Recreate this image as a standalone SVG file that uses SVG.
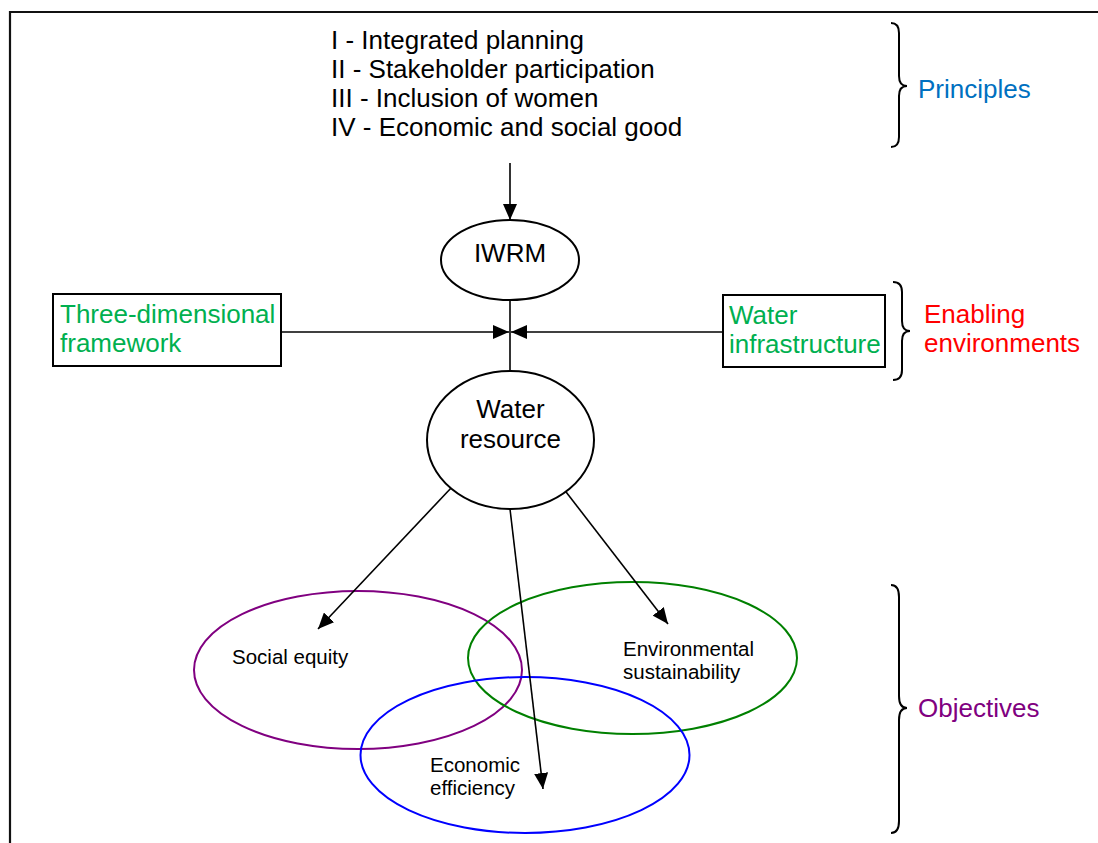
<svg xmlns="http://www.w3.org/2000/svg" width="1098" height="843" viewBox="0 0 1098 843">
  <style>
    text { font-family: "Liberation Sans", Arial, sans-serif; }
    .big { font-size: 26px; fill: #000; }
    .small { font-size: 20.5px; fill: #000; }
    .green { font-size: 26px; fill: #00B050; }
    .node { fill: #fff; stroke: #000; stroke-width: 2; }
    .conn { fill: none; stroke: #000; stroke-width: 1.6; }
    .brace { fill: none; stroke: #000; stroke-width: 2; }
  </style>
  <defs>
    <marker id="arrow" markerUnits="userSpaceOnUse" markerWidth="17" markerHeight="14" refX="16" refY="7" orient="auto">
      <path d="M0,0 L16,7 L0,14 z" fill="#000"/>
    </marker>
  </defs>

  <rect width="1098" height="843" fill="#fff"/>

  <!-- outer frame (top and left edges) -->
  <path d="M10,843 V12 H1098" fill="none" stroke="#111" stroke-width="2.2"/>

  <!-- principles list -->
  <g id="principles-list" class="big">
    <text x="331" y="49" class="big">I - Integrated planning</text>
    <text x="331" y="78" class="big">II - Stakeholder participation</text>
    <text x="331" y="107" class="big">III - Inclusion of women</text>
    <text x="331" y="136" class="big">IV - Economic and social good</text>
  </g>

  <!-- objective circles -->
  <g id="social-equity">
    <ellipse cx="358" cy="670" rx="164" ry="79" fill="none" stroke="#800080" stroke-width="2"/>
    <text x="232" y="664" class="small">Social equity</text>
  </g>
  <g id="environmental-sustainability">
    <ellipse cx="632.5" cy="658" rx="164.5" ry="76" fill="none" stroke="#008000" stroke-width="2"/>
    <text x="623" y="656" class="small">Environmental</text>
    <text x="623" y="679" class="small">sustainability</text>
  </g>
  <g id="economic-efficiency">
    <ellipse cx="525" cy="755" rx="164.5" ry="78" fill="none" stroke="#0000FF" stroke-width="2"/>
    <text x="430" y="772" class="small">Economic</text>
    <text x="430" y="795" class="small">efficiency</text>
  </g>

  <!-- connectors -->
  <g id="connectors">
    <line class="conn" x1="510" y1="163" x2="510" y2="220" marker-end="url(#arrow)"/>
    <line class="conn" x1="510" y1="300" x2="510" y2="371"/>
    <line class="conn" x1="281" y1="332" x2="509" y2="332" marker-end="url(#arrow)"/>
    <line class="conn" x1="723" y1="332" x2="511" y2="332" marker-end="url(#arrow)"/>
    <line class="conn" x1="452" y1="487" x2="318" y2="629" marker-end="url(#arrow)"/>
    <line class="conn" x1="510" y1="509" x2="543" y2="789" marker-end="url(#arrow)"/>
    <line class="conn" x1="563" y1="488" x2="668" y2="624" marker-end="url(#arrow)"/>
  </g>

  <g id="iwrm">
    <ellipse class="node" cx="510" cy="260" rx="69" ry="40"/>
    <text x="510" y="262" class="big" text-anchor="middle">IWRM</text>
  </g>

  <g id="water-resource">
    <ellipse class="node" cx="510.5" cy="440" rx="83.5" ry="69"/>
    <text x="510.5" y="418" class="big" text-anchor="middle">Water</text>
    <text x="510.5" y="448" class="big" text-anchor="middle">resource</text>
  </g>

  <g id="three-dimensional-framework">
    <rect class="node" x="53" y="294" width="228" height="72"/>
    <text x="60" y="323" class="green">Three-dimensional</text>
    <text x="60" y="352" class="green">framework</text>
  </g>

  <g id="water-infrastructure">
    <rect class="node" x="723" y="295" width="162" height="72"/>
    <text x="729" y="324" class="green">Water</text>
    <text x="729" y="353" class="green">infrastructure</text>
  </g>

  <!-- category braces and labels -->
  <g id="principles">
    <path class="brace" d="M891,23 Q899,23 899,33 L899,76 Q899,86 907,86 Q899,86 899,96 L899,137 Q899,147 891,147"/>
    <text x="918" y="98" style="font-size:26px;fill:#0070C0">Principles</text>
  </g>
  <g id="enabling-environments">
    <path class="brace" d="M893,282 Q902,282 902,292 L902,321 Q902,331 910,331 Q902,331 902,341 L902,370 Q902,380 893,380"/>
    <text x="924" y="323" style="font-size:26px;fill:#FF0000">Enabling</text>
    <text x="924" y="352" style="font-size:26px;fill:#FF0000">environments</text>
  </g>
  <g id="objectives">
    <path class="brace" d="M891,585 Q899,585 899,597 L899,696 Q899,708 907,708 Q899,708 899,720 L899,821 Q899,833 891,833"/>
    <text x="918" y="717" style="font-size:26px;fill:#800080">Objectives</text>
  </g>
</svg>
